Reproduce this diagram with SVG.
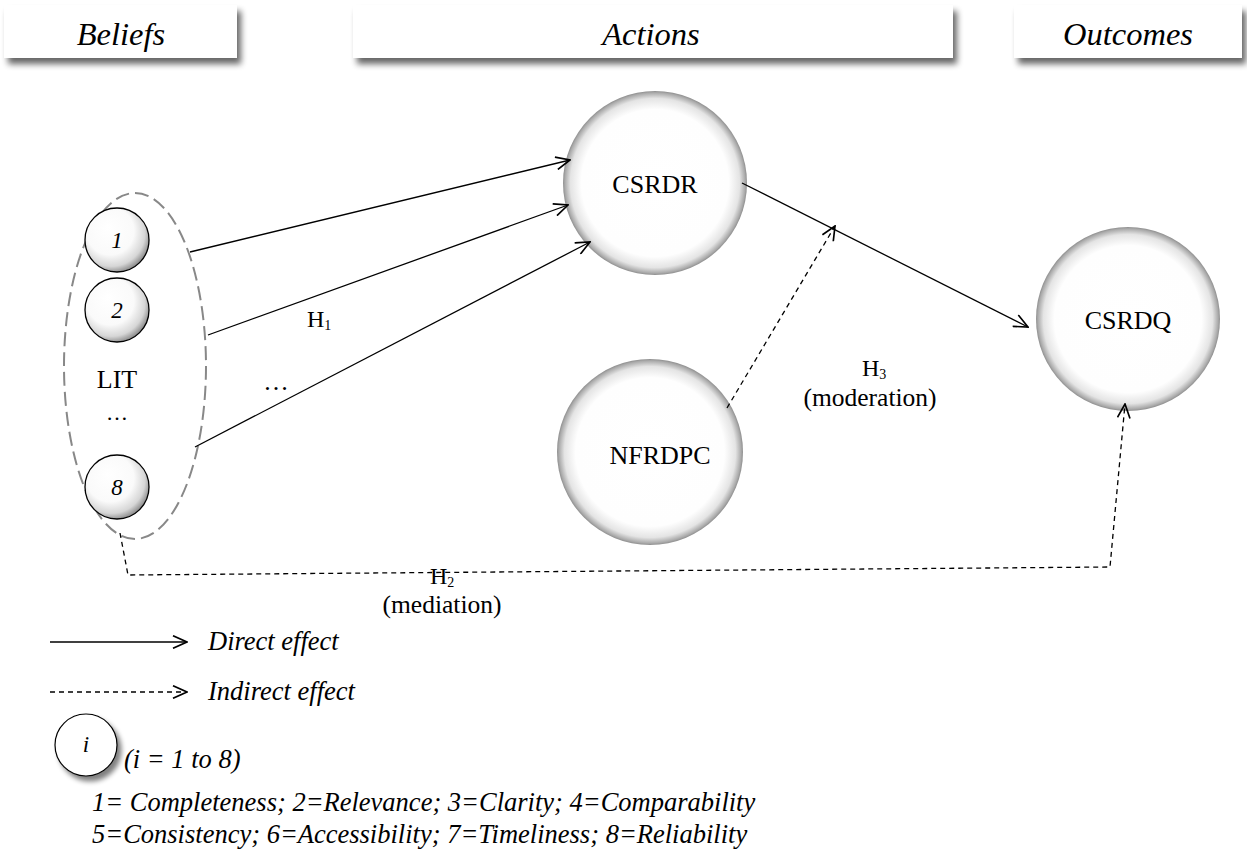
<svg xmlns="http://www.w3.org/2000/svg" width="1247" height="863" viewBox="0 0 1247 863">
<style>
text{font-family:"Liberation Serif","Times New Roman",Times,"DejaVu Serif",serif;fill:#000}
.hdr{font-style:italic;font-size:32.5px;text-anchor:middle}
.node{font-size:26px;text-anchor:middle}
.num{font-style:italic;font-size:23px;text-anchor:middle}
.lbl{font-size:25.5px;text-anchor:middle}
.lbs{font-size:24px;text-anchor:start}
.leg{font-style:italic;font-size:26.5px}
.solid{stroke:#000;stroke-width:1.3;fill:none}
.dash{stroke:#000;stroke-width:1.3;fill:none;stroke-dasharray:5 4}
.box{fill:#fff}
.big{fill:url(#bigGrad)}
.small{fill:url(#smallGrad);stroke:#000;stroke-width:1.3}
</style>
<defs>
<filter id="shadow" x="-10%" y="-30%" width="125%" height="190%">
<feGaussianBlur in="SourceAlpha" stdDeviation="3"/>
<feOffset dx="4" dy="6" result="b"/>
<feComponentTransfer><feFuncA type="linear" slope="0.6"/></feComponentTransfer>
<feMerge><feMergeNode/><feMergeNode in="SourceGraphic"/></feMerge>
</filter>
<filter id="cshadow" x="-30%" y="-30%" width="170%" height="170%">
<feGaussianBlur in="SourceAlpha" stdDeviation="2.5"/>
<feOffset dx="4" dy="5" result="b"/>
<feComponentTransfer><feFuncA type="linear" slope="0.5"/></feComponentTransfer>
<feMerge><feMergeNode/><feMergeNode in="SourceGraphic"/></feMerge>
</filter>
<radialGradient id="bigGrad" cx="0.5" cy="0.5" r="0.5">
<stop offset="0" stop-color="#fff"/>
<stop offset="0.8" stop-color="#fefefe"/>
<stop offset="0.92" stop-color="#e4e4e4"/>
<stop offset="0.98" stop-color="#aaa"/>
<stop offset="1" stop-color="#8e8e8e"/>
</radialGradient>
<radialGradient id="smallGrad" cx="0.42" cy="0.4" r="0.62" fx="0.35" fy="0.3">
<stop offset="0" stop-color="#fff"/>
<stop offset="0.6" stop-color="#fafafa"/>
<stop offset="0.85" stop-color="#d6d6d6"/>
<stop offset="1" stop-color="#8a8a8a"/>
</radialGradient>
<marker id="arr" viewBox="0 0 10 10" refX="10" refY="5" markerWidth="16" markerHeight="14" markerUnits="userSpaceOnUse" orient="auto">
<path d="M0,0.5 L10,5 L0,9.5" fill="none" stroke="#000" stroke-width="1.2"/>
</marker>
</defs>
<rect width="1247" height="863" fill="#fff"/>

<g id="header-beliefs">
<rect class="box" x="4" y="5" width="233" height="53" filter="url(#shadow)"/>
<text class="hdr" x="121" y="45">Beliefs</text>
</g>
<g id="header-actions">
<rect class="box" x="353" y="5" width="600" height="53" filter="url(#shadow)"/>
<text class="hdr" x="651" y="45">Actions</text>
</g>
<g id="header-outcomes">
<rect class="box" x="1014" y="5" width="228" height="53" filter="url(#shadow)"/>
<text class="hdr" x="1128" y="45">Outcomes</text>
</g>

<g id="lit">
<ellipse cx="135" cy="366" rx="71" ry="173" fill="none" stroke="#888" stroke-width="2" stroke-dasharray="14 6"/>
<g id="item1"><circle class="small" cx="117" cy="240" r="32"/><text class="num" x="117" y="248">1</text></g>
<g id="item2"><circle class="small" cx="117" cy="310" r="32"/><text class="num" x="117" y="318">2</text></g>
<text class="node" x="117" y="388">LIT</text>
<text class="node" x="117" y="420" style="font-size:22px">…</text>
<g id="item8"><circle class="small" cx="117" cy="487" r="32"/><text class="num" x="117" y="495">8</text></g>
</g>

<g id="csrdr">
<circle class="big" cx="655" cy="183" r="92"/>
<text class="node" x="655" y="193">CSRDR</text>
</g>
<g id="csrdq">
<circle class="big" cx="1128" cy="319" r="92"/>
<text class="node" x="1128" y="329">CSRDQ</text>
</g>
<g id="nfrdpc">
<circle class="big" cx="650" cy="452" r="93"/>
<text class="node" x="660" y="464">NFRDPC</text>
</g>

<g id="connectors">
<line class="solid" x1="190" y1="252" x2="570" y2="160" marker-end="url(#arr)"/>
<line class="solid" x1="208" y1="335" x2="568" y2="205" marker-end="url(#arr)"/>
<line class="solid" x1="195" y1="447" x2="590" y2="242" marker-end="url(#arr)"/>
<line class="solid" x1="742" y1="183" x2="1028" y2="327" marker-end="url(#arr)"/>
<line class="dash" x1="727" y1="408" x2="835" y2="226" marker-end="url(#arr)"/>
<polyline class="dash" points="120,533 128,575 1110,567 1125,404" marker-end="url(#arr)"/>
<text class="lbs" x="307" y="327">H<tspan font-size="14" dy="3">1</tspan></text>
<text class="lbl" x="276" y="390">…</text>
<text class="lbs" x="862" y="376">H<tspan font-size="14" dy="3">3</tspan></text>
<text class="lbl" x="870" y="406">(moderation)</text>
<text class="lbs" x="430" y="584">H<tspan font-size="14" dy="3">2</tspan></text>
<text class="lbl" x="442" y="613">(mediation)</text>
</g>

<g id="legend">
<line class="solid" x1="50" y1="642" x2="187" y2="642" marker-end="url(#arr)"/>
<text class="leg" x="208" y="650">Direct effect</text>
<line class="dash" x1="50" y1="692" x2="187" y2="692" marker-end="url(#arr)"/>
<text class="leg" x="208" y="700">Indirect effect</text>
<circle cx="86" cy="745" r="31" fill="#fff" stroke="#000" stroke-width="1.2" filter="url(#cshadow)"/>
<text class="leg" x="86" y="752" style="text-anchor:middle;font-size:23px">i</text>
<text class="leg" x="124" y="768">(i = 1 to 8)</text>
<text class="leg" x="92" y="811">1= Completeness; 2=Relevance; 3=Clarity; 4=Comparability</text>
<text class="leg" x="92" y="843">5=Consistency; 6=Accessibility; 7=Timeliness; 8=Reliability</text>
</g>
</svg>
